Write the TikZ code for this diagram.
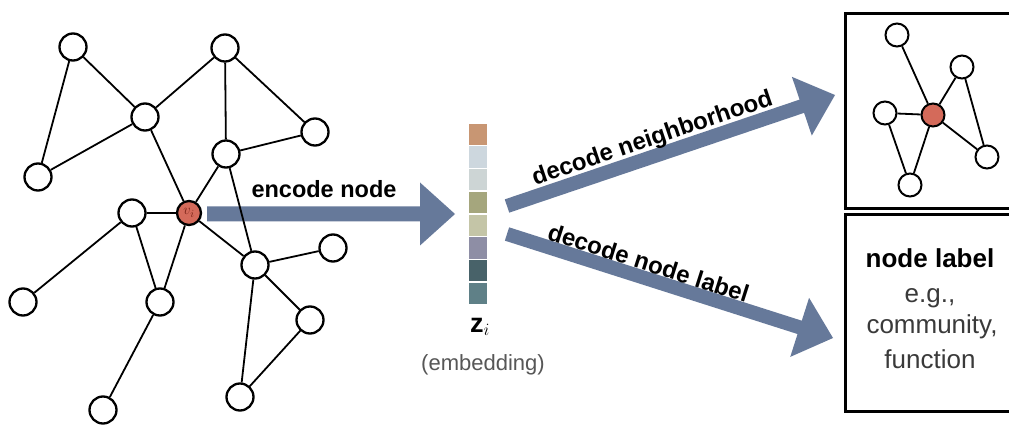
\documentclass[tikz,border=0pt]{standalone}
\usepackage{fontspec}
\setmainfont{Liberation Sans}
\usetikzlibrary{calc}
\definecolor{arrowcol}{HTML}{66799A}
\definecolor{rednode}{HTML}{D46A5A}
\definecolor{vilab}{HTML}{7A2318}
\definecolor{greytext}{HTML}{3A3A3A}
\definecolor{embA}{RGB}{200,150,115}
\definecolor{embB}{RGB}{205,215,222}
\definecolor{embC}{RGB}{205,213,213}
\definecolor{embD}{RGB}{165,166,125}
\definecolor{embE}{RGB}{196,197,167}
\definecolor{embF}{RGB}{142,142,165}
\definecolor{embG}{RGB}{72,98,105}
\definecolor{embH}{RGB}{95,128,135}
\newcommand\fatarrow[4]{%
  \coordinate (fa-hb) at ($(#2)!35pt!(#1)$);
  \fill[arrowcol] ($(#1)!#3!90:(#2)$) -- ($(fa-hb)!#3!-90:(#1)$) -- ($(fa-hb)!#4!-90:(#1)$) -- (#2) -- ($(fa-hb)!#4!90:(#1)$) -- ($(fa-hb)!#3!90:(#1)$) -- ($(#1)!#3!-90:(#2)$) -- cycle;}
\begin{document}
\begin{tikzpicture}[x=1pt,y=-1pt,
  gnode/.style={circle, draw=black, line width=2.3pt, fill=white, minimum size=27pt, inner sep=0pt},
  snode/.style={gnode, minimum size=23pt, line width=2pt},
  rnode/.style={gnode, fill=rednode, minimum size=24pt},
  srnode/.style={snode, fill=rednode},
  edge/.style={line width=1.8pt},
  boldlab/.style={font=\bfseries\fontsize{24}{28}\selectfont, inner sep=0pt},
  cell/.style={minimum width=18pt, minimum height=21.25pt, inner sep=0pt},
  boxframe/.style={draw=black, line width=3pt},
  boxstyle/.style={minimum width=220pt, inner sep=0pt}]
\useasboundingbox (0,0) rectangle (1009,430);
\clip (0,0) rectangle (1009,430);
\fill[white] (0,0) rectangle (1009,430);

% fat arrows
\coordinate (encS) at (207,214);
\coordinate (encT) at (455,214);
\coordinate (decS1) at (507,206);
\coordinate (decT1) at (835,95);
\coordinate (decS2) at (507,234);
\coordinate (decT2) at (833,338);
\fatarrow{encS}{encT}{7.5pt}{31.5pt}
\fatarrow{decS1}{decT1}{7pt}{31pt}
\fatarrow{decS2}{decT2}{7pt}{31pt}

% arrow labels
\node[boldlab, anchor=base] (enclab) at (324,198) {\fontsize{23.5}{28}\selectfont encode node};
\path (decS1) -- (decT1) node[pos=0.46, sloped, above=5pt, boldlab] (declab1) {decode neighborhood};
\path (decS2) -- (decT2) node[pos=0.42, sloped, above=6.5pt, boldlab] (declab2) {decode node label};

% left graph
\node[gnode] (A) at (73,47) {};
\node[gnode] (B) at (225,48) {};
\node[gnode] (C) at (145,117) {};
\node[gnode] (D) at (315,132) {};
\node[gnode] (E) at (226,154) {};
\node[gnode] (F) at (38,177) {};
\node[rnode] (vi) at (189,213) {\fontsize{15}{15}\selectfont\color{vilab}$v_i$};
\node[gnode] (G) at (132,213) {};
\node[gnode] (H) at (255,265) {};
\node[gnode] (I) at (333,248) {};
\node[gnode] (J) at (23,302) {};
\node[gnode] (K) at (160,302) {};
\node[gnode] (L) at (310,320) {};
\node[gnode] (M) at (240,397) {};
\node[gnode] (N) at (103,410) {};
\draw[edge] (A) -- (C) (A) -- (F) (C) -- (F) (C) -- (B) (C) -- (vi)
  (B) -- (E) (B) -- (D) (E) -- (D) (E) -- (vi) (E) -- (H)
  (G) -- (vi) (G) -- (J) (G) -- (K) (vi) -- (K) (vi) -- (H)
  (H) -- (I) (H) -- (L) (H) -- (M) (L) -- (M) (K) -- (N);

% embedding
\foreach \c [count=\k] in {embA,embB,embC,embD,embE,embF,embG,embH}
  \node[cell, fill=\c] (e\k) at (478, {123+22.75*\k-11.375}) {};
\node[font=\fontsize{27}{27}\selectfont, inner sep=0pt] (zi) at (480,327) {$\mathbf{z}_i$};
\node[font=\fontsize{22}{24}\selectfont, text=greytext!85, inner sep=0pt] (embl) at (483,365) {(embedding)};

% right boxes (open on the right: they run past the picture's edge)
\node[boxstyle, minimum height=194pt] (box1) at (956,111) {};
\node[boxstyle, minimum height=196pt] (box2) at (956,313) {};
\draw[boxframe] (box1.north east) -- (box1.north west) -- (box1.south west) -- (box1.south east);
\draw[boxframe] (box2.north east) -- (box2.north west) -- (box2.south west) -- (box2.south east);

\node[snode] (P1) at (897,35) {};
\node[snode] (P2) at (962,67) {};
\node[srnode] (R) at (933,115) {};
\node[snode] (P3) at (885,113) {};
\node[snode] (P4) at (987,157) {};
\node[snode] (P5) at (910,185) {};
\draw[edge] (P1) -- (R) (P2) -- (R) (P3) -- (R) (R) -- (P4) (P2) -- (P4) (P3) -- (P5) (R) -- (P5);

\node[anchor=base, font=\bfseries\fontsize{26}{30}\selectfont, inner sep=0pt] (nl) at (930,268) {node label};
\node[anchor=base, font=\fontsize{26}{30}\selectfont, text=greytext, inner sep=0pt] (eg) at (930,302) {e.g.,};
\node[anchor=base, font=\fontsize{26}{30}\selectfont, text=greytext, inner sep=0pt] (comm) at (932,334) {community,};
\node[anchor=base, font=\fontsize{26}{30}\selectfont, text=greytext, inner sep=0pt] (func) at (930,368) {function};
\end{tikzpicture}
\end{document}
